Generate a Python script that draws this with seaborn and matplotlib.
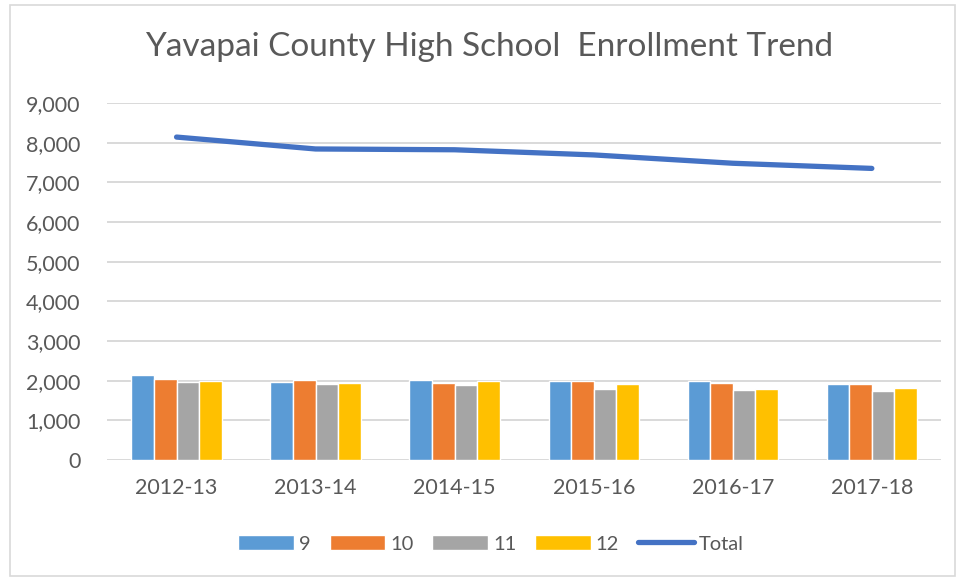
import numpy as np
import pandas as pd
import seaborn as sns
import matplotlib.pyplot as plt
from matplotlib.patches import Rectangle

years = ['2012-13', '2013-14', '2014-15', '2015-16', '2016-17', '2017-18']
grade_9 = [2130, 1970, 2010, 1985, 1985, 1905]
grade_10 = [2040, 2010, 1930, 1980, 1945, 1905]
grade_11 = [1970, 1910, 1900, 1800, 1770, 1735]
grade_12 = [1990, 1950, 1980, 1925, 1780, 1805]
total = [8140, 7840, 7820, 7690, 7480, 7350]
grades = ['9', '10', '11', '12']

df = pd.DataFrame({
    'year': years * 4,
    'grade': sum([[g] * len(years) for g in grades], []),
    'count': grade_9 + grade_10 + grade_11 + grade_12,
})

sns.set_style('white')
plt.rcParams['font.family'] = ['Lato', 'DejaVu Sans']
text_col = '#595959'

fig = plt.figure(figsize=(9.59, 5.81), dpi=100)
ax = fig.add_axes([0.1116, 0.2083, 0.870, 0.6145])

palette = ['#5B9BD5', '#ED7D31', '#A5A5A5', '#FFC000']
sns.barplot(data=df, x='year', y='count', hue='grade', palette=palette,
            width=0.65, ax=ax, legend=True, saturation=1)
sns.lineplot(x=np.arange(len(years)), y=total, color='#4472C4', linewidth=3.8,
             ax=ax, label='Total', solid_capstyle='round')

ax.set_ylim(0, 9000)
ax.set_xlim(-0.5, len(years) - 0.5)
ax.set_yticks(range(0, 9001, 1000))
ax.set_yticklabels([f'{v:,}' for v in range(0, 9001, 1000)])
ax.set_xticks(range(len(years)))
ax.set_xticklabels(years)
ax.grid(axis='y', color='#D9D9D9', linewidth=1.4)
ax.set_axisbelow(True)
for s in ax.spines.values():
    s.set_visible(False)
ax.tick_params(axis='both', length=0, labelsize=15.5, colors=text_col)
ax.tick_params(axis='y', pad=19)
ax.tick_params(axis='x', pad=13)
ax.set_xlabel('')
ax.set_ylabel('')

handles, labels = ax.get_legend_handles_labels()
ax.legend_.remove()
fig.legend(handles, labels, loc='center', bbox_to_anchor=(0.512, 0.064), ncol=5,
           frameon=False, fontsize=14.5, handlelength=2.75, handleheight=0.75,
           columnspacing=0.95, handletextpad=0.25, labelcolor=text_col)

fig.suptitle('Yavapai County High School  Enrollment Trend', x=0.51, y=0.945,
             fontsize=24, color=text_col)

fig.patches.append(Rectangle((10 / 959, 5 / 581), 945 / 959, 571 / 581,
                             transform=fig.transFigure, fill=False,
                             edgecolor='#D9D9D9', linewidth=1.2))

fig.savefig('out.png', dpi=100)
